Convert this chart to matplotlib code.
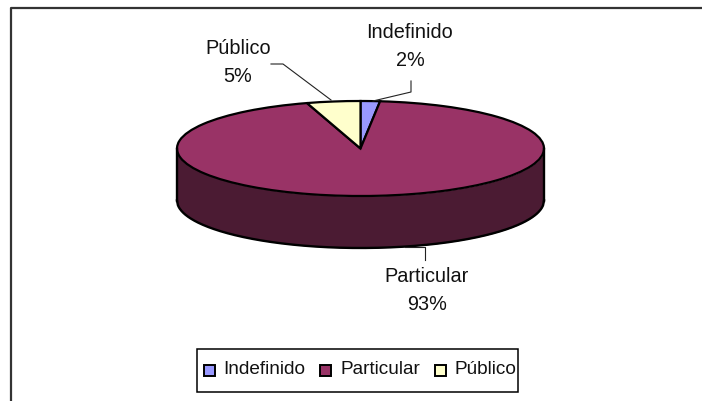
import matplotlib
matplotlib.use("Agg")
import matplotlib.pyplot as plt
import numpy as np

W, H = 702, 401

categories = ["Indefinido", "Particular", "Público"]
shares = [1.7, 93.4, 4.7]
pct_labels = ["2%", "93%", "5%"]
colors = ["#9999FF", "#993366", "#FFFFCC"]
side_color = "#4B1B33"

plt.rcParams["font.family"] = ["Liberation Sans", "DejaVu Sans"]


# pixel position (y from top) to figure fraction
def fx(x):
    return x / W


def fy(y):
    return 1 - y / H


def main():
    fig = plt.figure(figsize=(W / 100, H / 100), dpi=100)
    fig.patch.set_facecolor("white")

    # outer chart frame, open at the right and bottom
    fig.add_artist(plt.Line2D([fx(11), fx(11), fx(702)], [fy(401), fy(8), fy(8)],
                              color="#333333", lw=1.6))

    # pie axes fills the top ellipse of the disc
    left, right, top, bottom = 177, 544, 101, 196
    ax = fig.add_axes([fx(left), fy(bottom), (right - left) / W, (bottom - top) / H])
    ax.axis("off")
    depth = 52 / ((bottom - top) / 2)

    x = np.linspace(-1, 1, 400)
    lower = -np.sqrt(1 - x**2)
    ax.fill_between(x, lower, lower - depth, color=side_color, lw=0, clip_on=False)
    ax.plot(x, lower - depth, color="black", lw=1.7, clip_on=False)
    ax.plot([-1, -1], [0, -depth], color="black", lw=1.7, clip_on=False)
    ax.plot([1, 1], [0, -depth], color="black", lw=1.7, clip_on=False)

    ax.pie(shares, colors=colors, startangle=90, counterclock=False, radius=1,
           wedgeprops={"edgecolor": "black", "linewidth": 1.6, "clip_on": False})
    ax.set_aspect("auto")
    ax.set_xlim(-1, 1)
    ax.set_ylim(-1, 1)

    # data labels
    fs = 14.3
    spots = {0: (410, 32, 60), 2: (238, 48, 77), 1: (427, 276, 305)}
    for i in [0, 2, 1]:
        xc, y1, y2 = spots[i]
        fig.text(fx(xc), fy(y1), categories[i], ha="center", va="center", fontsize=fs, color="#111111")
        fig.text(fx(xc), fy(y2), pct_labels[i], ha="center", va="center", fontsize=fs, color="#111111")

    # leader lines
    leaders = [([411, 411, 373], [81, 92, 101]),
               ([271, 283, 331], [64, 64, 100]),
               ([425, 425, 405], [260, 247, 247])]
    for lx, ly in leaders:
        fig.add_artist(plt.Line2D([fx(v) for v in lx], [fy(v) for v in ly],
                                  color="#222222", lw=0.8))

    # legend box
    fig.add_artist(plt.Rectangle((fx(197), fy(392)), 321 / W, 43 / H, facecolor="white",
                                 edgecolor="black", lw=1.1, transform=fig.transFigure))
    swatch_x = [204, 320, 435]
    text_x = [223, 340, 455]
    for i in range(3):
        fig.add_artist(plt.Rectangle((fx(swatch_x[i]), fy(376)), 11 / W, 11 / H, facecolor=colors[i],
                                     edgecolor="black", lw=1.4, transform=fig.transFigure))
        fig.text(fx(text_x[i]), fy(369), categories[i], ha="left", va="center", fontsize=13.7, color="#111111")

    fig.savefig("out.png", dpi=100)


if __name__ == "__main__":
    main()
